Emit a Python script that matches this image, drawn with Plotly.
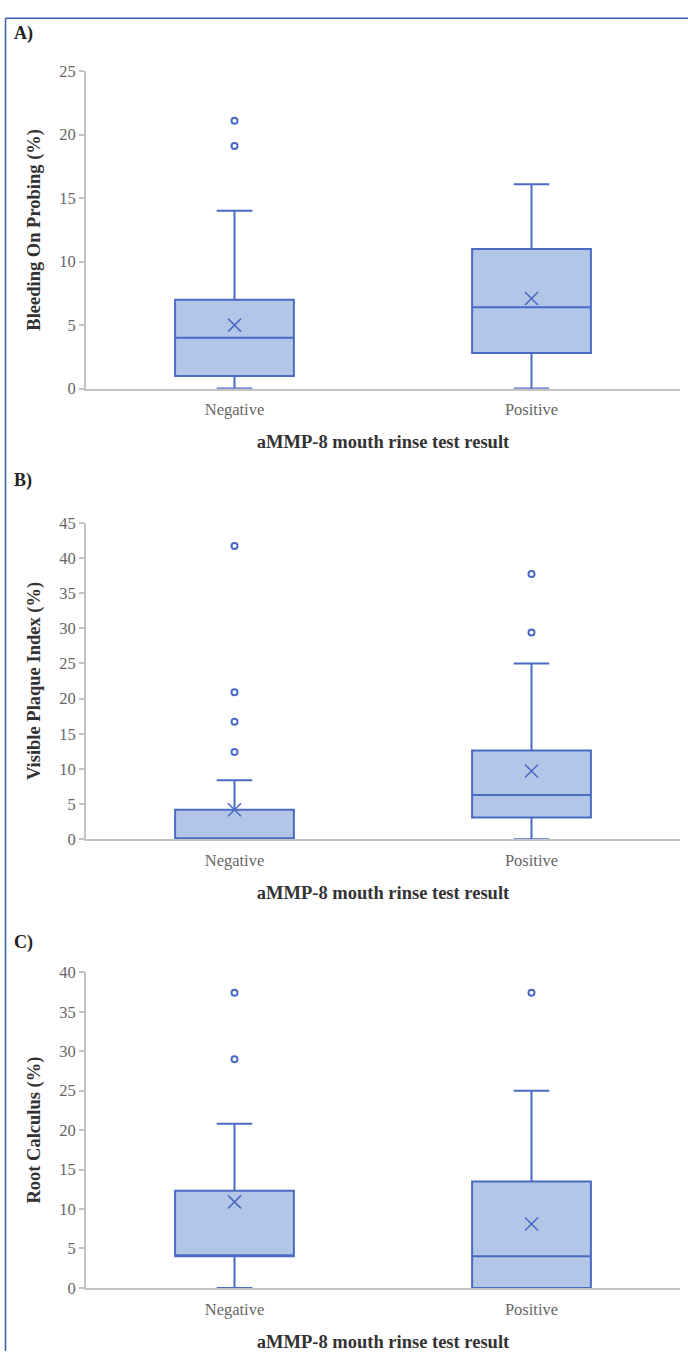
import plotly.graph_objects as go

W, H = 688, 1361

categories = ["Negative", "Positive"]

# Panel A: Bleeding On Probing (%)
a_q1 = [1.0, 2.8]
a_median = [4.0, 6.4]
a_q3 = [7.0, 11.0]
a_lower = [0.0, 0.0]
a_upper = [14.0, 16.1]
a_mean = [5.0, 7.1]
a_out_x = ["Negative", "Negative"]
a_out_y = [21.1, 19.1]

# Panel B: Visible Plaque Index (%)
b_q1 = [0.0, 3.1]
b_median = [0.0, 6.3]
b_q3 = [4.2, 12.6]
b_lower = [0.0, 0.0]
b_upper = [8.4, 25.0]
b_mean = [4.2, 9.7]
b_out_x = ["Negative", "Negative", "Negative", "Negative", "Positive", "Positive"]
b_out_y = [41.7, 20.9, 16.7, 12.4, 37.7, 29.4]

# Panel C: Root Calculus (%)
c_q1 = [4.0, 0.0]
c_median = [4.0, 4.0]
c_q3 = [12.3, 13.5]
c_lower = [0.0, 0.0]
c_upper = [20.8, 25.0]
c_mean = [10.9, 8.1]
c_out_x = ["Negative", "Negative", "Positive"]
c_out_y = [37.4, 29.0, 37.4]

y_titles = ["Bleeding On Probing (%)", "Visible Plaque Index (%)", "Root Calculus (%)"]
x_title = "aMMP-8 mouth rinse test result"
panel_labels = ["A)", "B)", "C)"]
y_ranges = [[0, 25], [0, 45], [0, 40]]
y_dticks = [5, 5, 5]

LINE = "#4a6bc4"
FILL = "#b4c6e8"
AXIS = "#c4c4c4"
SERIF = "Liberation Serif, Times New Roman, serif"

# pixel layout (top, bottom) for each plot area
px_rows = [(63, 385), (521, 842), (977, 1297)]
px_x = (86, 680)
label_y = [25, 478, 947]

fig = go.Figure()

panels = [
    (a_q1, a_median, a_q3, a_lower, a_upper, a_mean, a_out_x, a_out_y),
    (b_q1, b_median, b_q3, b_lower, b_upper, b_mean, b_out_x, b_out_y),
    (c_q1, c_median, c_q3, c_lower, c_upper, c_mean, c_out_x, c_out_y),
]

for i, (q1, med, q3, lo, up, mean, ox, oy) in enumerate(panels):
    xa = "x" if i == 0 else f"x{i+1}"
    ya = "y" if i == 0 else f"y{i+1}"
    fig.add_trace(go.Box(
        x=categories, q1=q1, median=med, q3=q3, lowerfence=lo, upperfence=up,
        boxpoints=False, fillcolor=FILL, line=dict(color=LINE, width=2),
        whiskerwidth=0.3, showlegend=False, xaxis=xa, yaxis=ya, hoverinfo="skip",
    ))
    fig.add_trace(go.Scatter(
        x=categories, y=mean, mode="markers", showlegend=False, xaxis=xa, yaxis=ya,
        marker=dict(symbol="x-thin", size=13, color=LINE, line=dict(color=LINE, width=1.6)),
    ))
    fig.add_trace(go.Scatter(
        x=ox, y=oy, mode="markers", showlegend=False, xaxis=xa, yaxis=ya,
        marker=dict(symbol="circle-open", size=6, color=LINE, line=dict(color=LINE, width=2)),
    ))

layout = dict(
    width=W, height=H, autosize=False,
    margin=dict(l=0, r=0, t=0, b=0),
    paper_bgcolor="white", plot_bgcolor="white",
    boxgap=0.6, boxgroupgap=0, showlegend=False,
    font=dict(family=SERIF, color="#666"),
)

annotations = []
for i in range(3):
    top, bot = px_rows[i]
    xk = "xaxis" if i == 0 else f"xaxis{i+1}"
    yk = "yaxis" if i == 0 else f"yaxis{i+1}"
    xa = "x" if i == 0 else f"x{i+1}"
    ya = "y" if i == 0 else f"y{i+1}"
    layout[xk] = dict(
        domain=[px_x[0] / W, px_x[1] / W], anchor=ya,
        type="category", categoryorder="array", categoryarray=categories,
        range=[-0.5, 1.5],
        showline=True, linecolor=AXIS, linewidth=2, showgrid=False, zeroline=False,
        ticks="outside", ticklen=5, tickcolor="rgba(0,0,0,0)",
        tickfont=dict(family=SERIF, size=16.5, color="#666"),
        title=dict(text=x_title, font=dict(family=SERIF, size=18.5, color="#333", weight="bold"), standoff=17),
    )
    layout[yk] = dict(
        domain=[1 - bot / H, 1 - top / H], anchor=xa,
        range=y_ranges[i], dtick=y_dticks[i], tick0=0,
        showline=True, linecolor=AXIS, linewidth=2, showgrid=False, zeroline=False,
        ticks="outside", ticklen=5, tickcolor=AXIS, tickwidth=1.5,
        tickfont=dict(family=SERIF, size=16.5, color="#666"),
        title=dict(text=y_titles[i], font=dict(family=SERIF, size=18.5, color="#333", weight="bold"), standoff=14),
    )
    annotations.append(dict(
        text=panel_labels[i], x=12 / W, y=1 - label_y[i] / H, xref="paper", yref="paper",
        xanchor="left", yanchor="middle", showarrow=False,
        font=dict(family=SERIF, size=18, color="#222", weight="bold"),
    ))

layout["annotations"] = annotations
layout["shapes"] = [
    dict(type="line", xref="paper", yref="paper", x0=5.5 / W, x1=1, y0=1 - 9.5 / H, y1=1 - 9.5 / H,
         line=dict(color="#3a5aa8", width=1.5)),
    dict(type="line", xref="paper", yref="paper", x0=5.5 / W, x1=5.5 / W, y0=0, y1=1 - 9.5 / H,
         line=dict(color="#3a5aa8", width=1.5)),
]

fig.update_layout(**layout)
fig.write_html("out.html", config={"displayModeBar": False},
               post_script="document.body.style.margin='0px';")
